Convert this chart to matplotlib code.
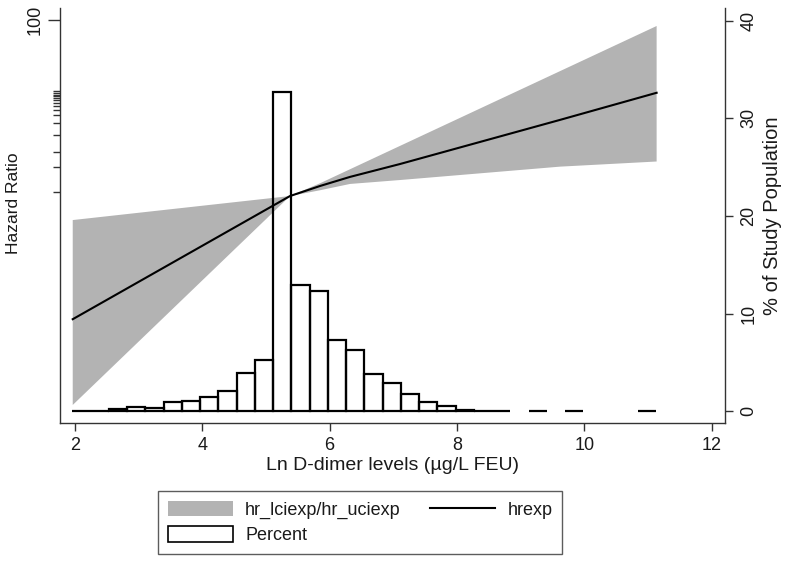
import numpy as np
import matplotlib
matplotlib.use("Agg")
import matplotlib.pyplot as plt
from matplotlib.ticker import FixedLocator, NullFormatter, FixedFormatter
from matplotlib.patches import Patch

plt.rcParams['font.family'] = ['Liberation Sans', 'DejaVu Sans']

# ---------------- data ----------------
# hazard ratio curve (hrexp)
line_x = [1.964, 5.377, 5.848, 6.319, 7.104, 9.617, 11.136]
hrexp = [1.81, 9.44, 10.8, 12.2, 14.5, 26.2, 37.7]

# confidence band (hr_lciexp / hr_uciexp)
uci_x = [1.964, 5.377, 5.848, 11.136]
hr_uciexp = [6.84, 9.44, 11.2, 92.3]
lci_x = [1.964, 5.377, 5.848, 6.319, 7.104, 9.617, 11.136]
hr_lciexp = [0.573, 9.44, 10.2, 11.1, 11.7, 14.0, 15.0]

# histogram of Ln D-dimer (percent of study population)
hist_start = 1.96
hist_end = 11.13
percent = [0.05, 0.05, 0.2, 0.47, 0.37, 0.98, 1.05, 1.43, 2.08, 3.95,
           5.3, 32.7, 12.9, 12.35, 7.3, 6.28, 3.79, 2.93, 1.74, 0.95,
           0.57, 0.15, 0.05, 0.05, 0.0, 0.03, 0.0, 0.03, 0.0, 0.0,
           0.0, 0.03]

x_ticks = [2, 4, 6, 8, 10, 12]
hr_major_ticks = [100]
hr_major_labels = ["100"]
hr_minor_ticks = [10.0, 14.0, 17.1, 21.4, 25.3, 28.0, 29.9, 31.6, 32.9,
                  34.0, 35.0, 36.0, 36.8, 37.7, 38.5]
pct_ticks = [0, 10, 20, 30, 40]

# ---------------- figure ----------------
FS_TICK = 13
FS_XLAB = 14
TXT = '#1a1a1a'
AXC = '#333333'
fig = plt.figure(figsize=(7.87, 5.65), dpi=100)
ax = fig.add_axes([60 / 787, 1 - 423 / 565, 665 / 787, 415 / 565])
ax2 = ax.twinx()

band_xs = np.r_[uci_x, lci_x[::-1]]
band_ys = np.r_[hr_uciexp, hr_lciexp[::-1]]
ax.fill(band_xs, band_ys, color='#b3b3b3', lw=0, zorder=1)
ax.plot(line_x, hrexp, color='black', lw=1.5, zorder=2)

edges = np.linspace(hist_start, hist_end, len(percent) + 1)
widths = np.diff(edges)
pct = np.array(percent)
mask = pct > 0
ax2.bar(edges[:-1][mask], pct[mask], width=widths[mask], align='edge',
        facecolor='none', edgecolor='black', linewidth=1.6, zorder=3)

ax.set_yscale('log')
ax.set_ylim(0.45, 117.5)
ax.set_xlim(1.764, 12.21)
ax2.set_ylim(-1.2, 41.3)

ax.xaxis.set_major_locator(FixedLocator(x_ticks))
ax.set_xticklabels([str(t) for t in x_ticks])
ax.yaxis.set_major_locator(FixedLocator(hr_major_ticks))
ax.yaxis.set_major_formatter(FixedFormatter(hr_major_labels))
ax.yaxis.set_minor_locator(FixedLocator(hr_minor_ticks))
ax.yaxis.set_minor_formatter(NullFormatter())
ax2.yaxis.set_major_locator(FixedLocator(pct_ticks))
ax2.set_yticklabels([str(t) for t in pct_ticks])

for a in (ax, ax2):
    a.spines['top'].set_visible(False)
    for s in a.spines.values():
        s.set_color(AXC)
        s.set_linewidth(1.0)
ax.spines['right'].set_visible(False)
ax2.spines['left'].set_visible(False)
ax2.spines['bottom'].set_visible(False)

ax.tick_params(axis='x', which='major', length=6, width=1, color=AXC,
               labelsize=FS_TICK, labelcolor=TXT, pad=4)
ax.tick_params(axis='y', which='major', length=9, width=1, color=AXC,
               labelsize=FS_TICK, labelcolor=TXT, pad=3)
ax.tick_params(axis='y', which='minor', length=5, width=1, color=AXC)
for lab in ax.get_yticklabels():
    lab.set_rotation(90)
    lab.set_va('center')
ax2.tick_params(axis='y', which='major', length=6, width=1, color=AXC,
                labelsize=FS_TICK, labelcolor=TXT, pad=5)
for lab in ax2.get_yticklabels():
    lab.set_rotation(90)
    lab.set_va('center')
    lab.set_ha('left')

ax.set_xlabel('Ln D-dimer levels (µg/L FEU)', fontsize=FS_XLAB, color=TXT, labelpad=2)
fig.text(14 / 787, 1 - 203 / 565, 'Hazard Ratio', rotation=90, fontsize=12.5,
         color=TXT, ha='center', va='center')
fig.text(772 / 787, 1 - 216 / 565, '% of Study Population', rotation=90,
         fontsize=14.5, color=TXT, ha='center', va='center')

handles = [Patch(facecolor='#b3b3b3', edgecolor='none', label='hr_lciexp/hr_uciexp'),
           Patch(facecolor='white', edgecolor='black', linewidth=1.2, label='Percent'),
           plt.Line2D([], [], color='black', lw=1.5, label='hrexp')]
leg = fig.legend(handles=handles, ncol=2, loc='center',
                 bbox_to_anchor=(360 / 787, 1 - 522.5 / 565),
                 frameon=True, fancybox=False, fontsize=13,
                 handlelength=3.6, handleheight=0.95, handletextpad=0.7,
                 columnspacing=1.6, labelspacing=0.4, borderpad=0.55,
                 borderaxespad=0)
leg.get_frame().set_edgecolor(AXC)
leg.get_frame().set_linewidth(1.0)
for t in leg.get_texts():
    t.set_color(TXT)

fig.savefig('out.png', dpi=100)
